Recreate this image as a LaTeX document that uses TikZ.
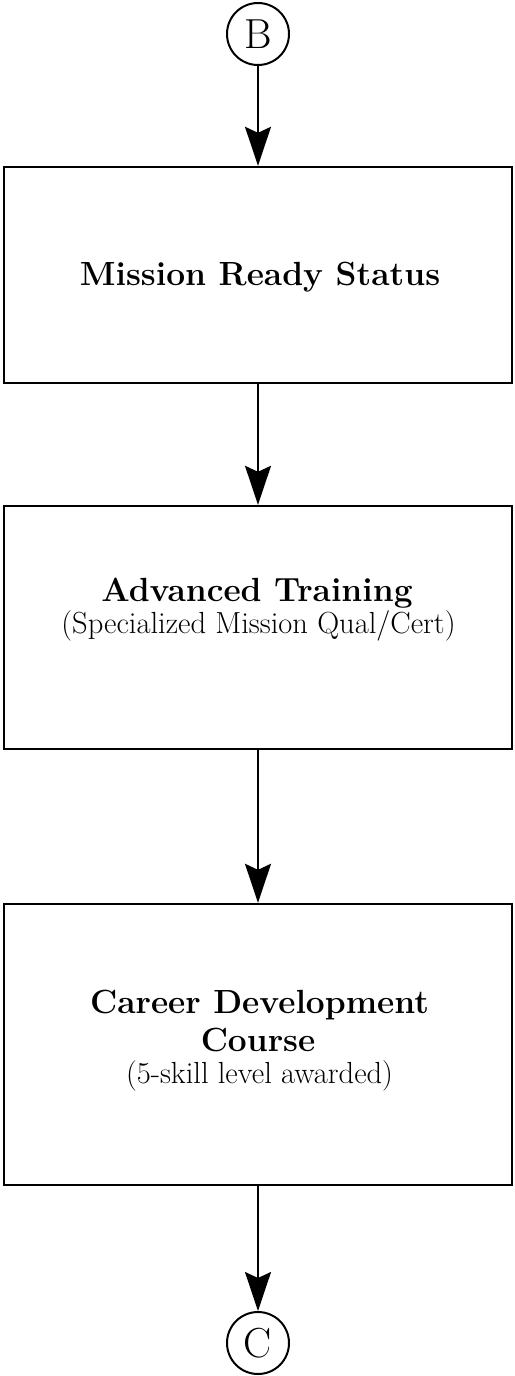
\documentclass[tikz,border=0pt]{standalone}
\usetikzlibrary{arrows.meta}
\begin{document}
\begin{tikzpicture}[x=1pt,y=-1pt,
  conn/.style={draw=black,circle,line width=2pt,minimum size=62pt,inner sep=0pt,
    font=\fontsize{42}{42}\selectfont},
  stepbox/.style={draw=black,rectangle,line width=2.4pt,minimum width=508pt,inner sep=0pt},
  title/.style={anchor=base,inner sep=0pt,font=\fontsize{33.5}{38}\selectfont\bfseries},
  sub/.style={anchor=base,inner sep=0pt,font=\fontsize{30.5}{30}\selectfont},
  arr/.style={line width=2pt,-{Stealth[length=39pt,width=26pt,inset=6pt]}}]
\useasboundingbox (0,0) rectangle (514,1376);
\node[conn] (B) at (258,34) {B};
\node[stepbox,minimum height=216pt] (box1) at (258,275) {};
\node[stepbox,minimum height=243pt] (box2) at (258,627.5) {};
\node[stepbox,minimum height=281pt] (box3) at (258,1044.5) {};
\node[conn] (C) at (258,1343) {C};
\node[title] (t1) at (260,285) {Mission Ready Status};
\node[title] (t2) at (257,601) {Advanced Training};
\node[sub] (s2) at (258.5,633) {(Specialized Mission Qual/Cert)};
\node[title] (t3a) at (259.5,1013) {Career Development};
\node[title] (t3b) at (258,1051) {Course};
\node[sub] (s3) at (259.5,1083) {(5-skill level awarded)};
\draw[arr] (B) -- (box1);
\draw[arr] (box1) -- (box2);
\draw[arr] (box2) -- (box3);
\draw[arr] (box3) -- (C);
\end{tikzpicture}
\end{document}
